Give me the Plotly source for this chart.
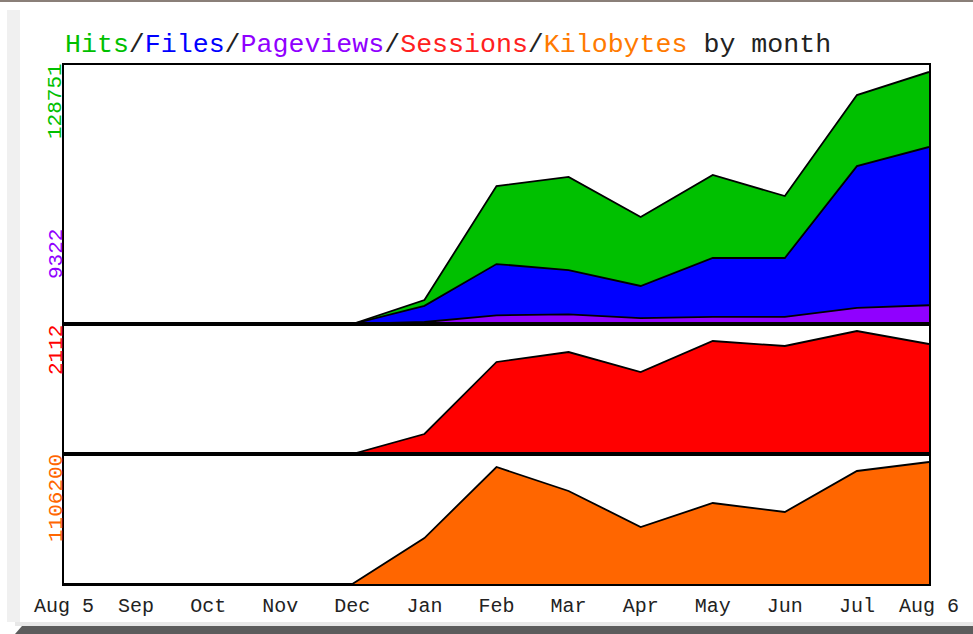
import plotly.graph_objects as go

# ---- data ----
months = ["Aug 5", "Sep", "Oct", "Nov", "Dec", "Jan", "Feb", "Mar", "Apr", "May", "Jun", "Jul", "Aug 6"]
hits = [0, 0, 0, 0, 0, 11900, 68600, 73100, 53200, 74100, 63600, 113800, 125300]
files = [0, 0, 0, 0, 0, 9000, 29800, 26800, 18900, 32800, 32800, 78500, 88000]
pageviews = [0, 0, 0, 0, 0, 1000, 4300, 4800, 2900, 3500, 3500, 8000, 9322]
sessions = [0, 0, 0, 0, 0, 325, 1495, 1657, 1332, 1836, 1755, 1998, 1787]
kbytes = [0, 0, 0, 0, 0, 391000, 995600, 791400, 485000, 689300, 612700, 961600, 1038200]
top_hits_label = "128751"
top_pv_label = "9322"
top_sess_label = "2112"
top_kb_label = "1106200"
hits_max = 128751
sess_max = 2112
kb_max = 1106200

W, H = 973, 634
L, R, T, B = 64, 929, 65, 584   # plot-area edges in pixels
x = list(range(len(months)))

GREEN = "#00c000"
BLUE = "#0000ff"
PURPLE = "#9000ff"
RED = "#ff0000"
ORANGE = "#ff6600"
FONT = "Liberation Mono"

fig = go.Figure()

def area(y, color, xa, ya):
    fig.add_trace(go.Scatter(
        x=x, y=y, mode="lines", fill="tozeroy", fillcolor=color,
        line=dict(color="black", width=1.8), xaxis=xa, yaxis=ya,
        hoverinfo="skip", showlegend=False))

area(hits, GREEN, "x", "y")
area(files, BLUE, "x", "y")
area(pageviews, PURPLE, "x", "y")
area(sessions, RED, "x2", "y2")
area(kbytes, ORANGE, "x3", "y3")

def px(v):
    return (v - L) / (R - L)

def py(v):
    return (B - v) / (B - T)

axis_common = dict(showline=True, mirror=True, linecolor="black", linewidth=2,
                   showgrid=False, zeroline=False, ticks="", showticklabels=False)

fig.update_layout(
    width=W, height=H, margin=dict(l=L, r=W - R, t=T, b=H - B, pad=0, autoexpand=False),
    paper_bgcolor="white", plot_bgcolor="white",
    xaxis=dict(domain=[0, 1], range=[0, 12], anchor="y", **axis_common),
    xaxis2=dict(domain=[0, 1], range=[0, 12], anchor="y2", **axis_common),
    xaxis3=dict(domain=[0, 1], range=[0, 12], anchor="y3",
                showline=True, mirror=True, linecolor="black", linewidth=2,
                showgrid=False, zeroline=False,
                tickmode="array", tickvals=x, ticktext=months,
                ticks="outside", ticklen=2, tickcolor="rgba(0,0,0,0)",
                tickfont=dict(family=FONT, size=20, color="#222222")),
    yaxis=dict(domain=[py(324), 1], range=[0, hits_max], anchor="x", **axis_common),
    yaxis2=dict(domain=[py(454), py(324)], range=[0, sess_max], anchor="x2", **axis_common),
    yaxis3=dict(domain=[0, py(454)], range=[0, kb_max], anchor="x3", **axis_common),
)

title = ("<span style='color:#00c000'>Hits</span>/"
         "<span style='color:#0000ff'>Files</span>/"
         "<span style='color:#9000ff'>Pageviews</span>/"
         "<span style='color:#ff2020'>Sessions</span>/"
         "<span style='color:#ff7a00'>Kilobytes</span> by month")

ann = [
    dict(text=title, x=px(63), y=py(45), xanchor="left", yanchor="middle",
         font=dict(family=FONT, size=26.6, color="#222222")),
    dict(text=top_hits_label, x=px(56), y=py(101), textangle=-90,
         font=dict(family=FONT, size=21, color=GREEN)),
    dict(text=top_pv_label, x=px(56), y=py(254), textangle=-90,
         font=dict(family=FONT, size=21, color=PURPLE)),
    dict(text=top_sess_label, x=px(56), y=py(350), textangle=-90,
         font=dict(family=FONT, size=21, color=RED)),
    dict(text=top_kb_label, x=px(56), y=py(498), textangle=-90,
         font=dict(family=FONT, size=21, color=ORANGE)),
]
for a in ann:
    a.update(xref="paper", yref="paper", showarrow=False)
    a.setdefault("xanchor", "center")
    a.setdefault("yanchor", "middle")
fig.update_layout(annotations=ann)

# decorative frame around the image
shapes = [
    dict(type="rect", x0=px(0), x1=px(W), y0=py(2), y1=py(0), fillcolor="#8a7f78", line_width=0),
    dict(type="rect", x0=px(7), x1=px(20), y0=py(622), y1=py(10), fillcolor="#f0f0f0", line_width=0),
    dict(type="rect", x0=px(15), x1=px(W), y0=py(626), y1=py(622), fillcolor="#e8e8e8", line_width=0),
    dict(type="path",
         path=f"M {px(22)} {py(626)} L {px(W)} {py(626)} L {px(W)} {py(H)} L {px(15)} {py(H)} Z",
         fillcolor="#5c5c5c", line_width=0),
]
for s in shapes:
    s.update(xref="paper", yref="paper", layer="below")
fig.update_layout(shapes=shapes)

fig.write_html("out.html", config={"displayModeBar": False},
               post_script="document.body.style.margin='0';")
